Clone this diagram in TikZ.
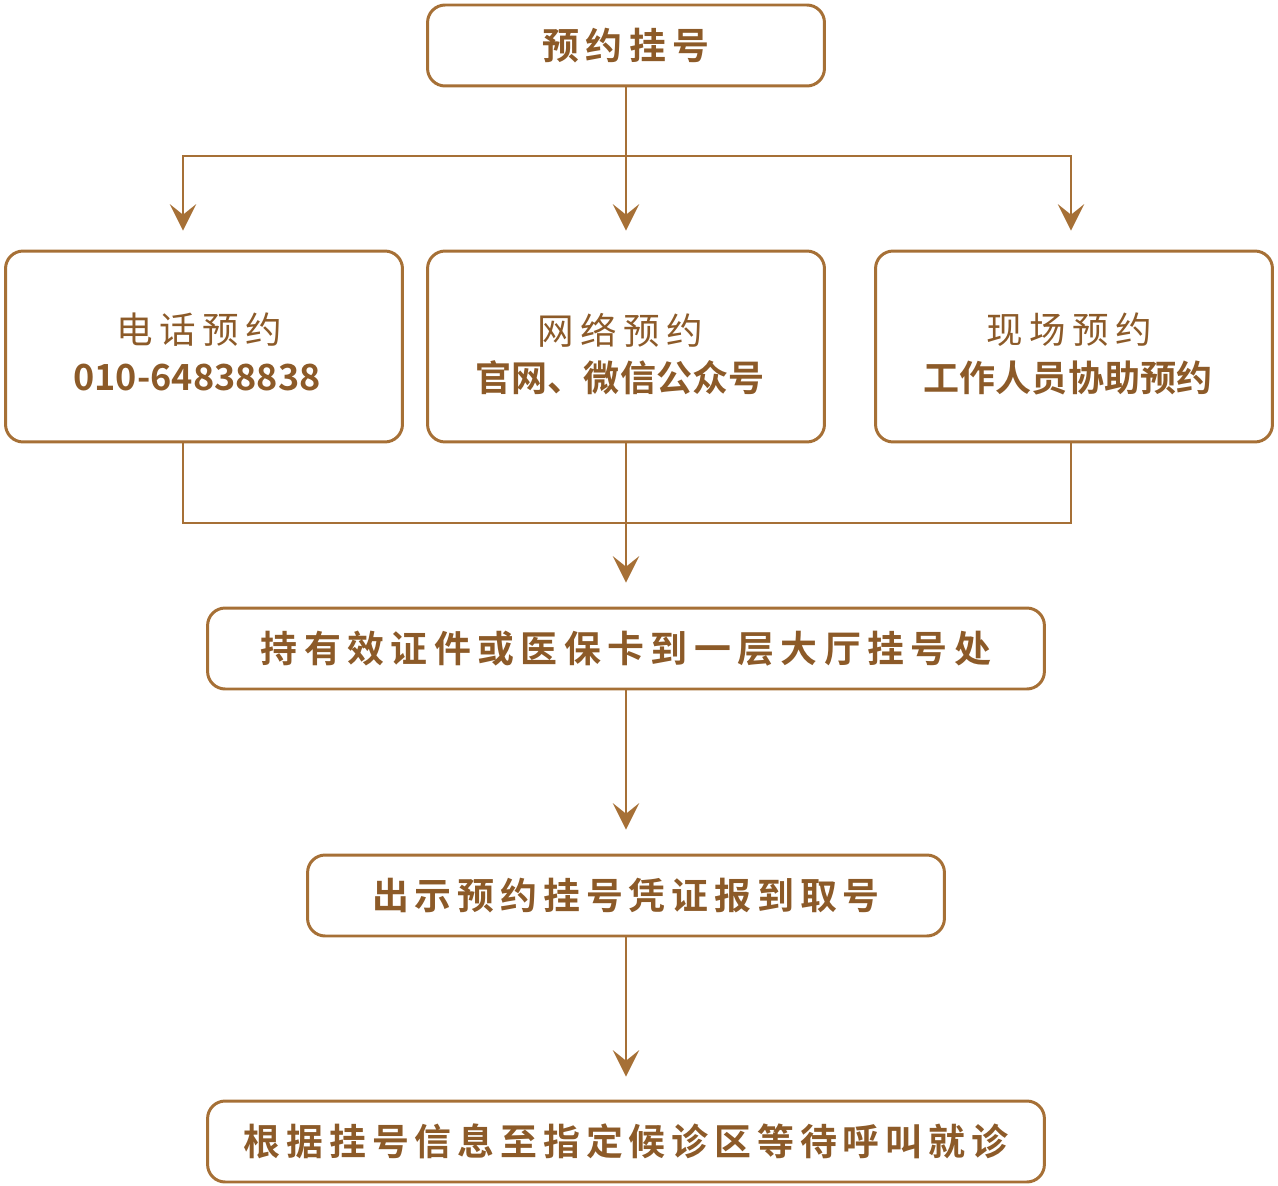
\documentclass[tikz,border=0pt]{standalone}
\usepackage{fontspec}
\usepackage{tikz}
\usetikzlibrary{arrows.meta,positioning,calc}

\newfontfamily\cjkb{Noto Sans CJK SC Bold}
\newfontfamily\cjkr{Noto Sans CJK SC}

\definecolor{boxline}{RGB}{166,112,54}
\definecolor{boxtext}{RGB}{140,90,40}

\begin{document}
\begin{tikzpicture}[
	%	style def
    x=0.02cm, y=-0.02cm,
    stepline/.style={draw=boxline, line width=1.7pt, rounded corners=10pt, fill=white},
    onebox/.style={stepline, minimum height=1.62cm, inner sep=0pt},
    rowbox/.style={stepline, minimum width=7.94cm, minimum height=3.82cm, inner sep=0pt},
    toptext/.style={font={\fontsize{20.8}{22}\cjkr\addfontfeature{LetterSpace=18}}},
    bottext/.style={font={\fontsize{20.5}{22}\cjkb}},
    link/.style={draw=boxline, line width=1.1pt},
    arr/.style={link, -{Stealth[length=15pt, width=15pt, inset=6pt]}},
    every node/.style={text=boxtext}
    ]
	\useasboundingbox (0,0) rectangle (1278,1186);

	% top box
	\node[onebox, minimum width=7.94cm, font={\fontsize{21}{24}\cjkb\addfontfeature{LetterSpace=17}}] (book) at (626,45.5) {预约挂号};

	% three ways to book
	\node[rowbox] (tel) at (204,346.5) {};
	\node[rowbox] (web) at (626,346.5) {};
	\node[rowbox] (site) at (1074,346.5) {};
	\node[toptext] (telA) at (199,330) {电话预约};
	\node[bottext] (telB) at (197,378) {010-64838838};
	\node[toptext] (webA) at (620,330) {网络预约};
	\node[bottext] (webB) at (620,378) {官网、微信公众号};
	\node[toptext] (siteA) at (1069,330) {现场预约};
	\node[bottext] (siteB) at (1068,378) {工作人员协助预约};

	% following steps
	\node[onebox, minimum width=16.74cm, font={\fontsize{21}{24}\cjkb\addfontfeature{LetterSpace=17.5}}] (card) at (626,648.5) {持有效证件或医保卡到一层大厅挂号处};
	\node[onebox, minimum width=12.74cm, font={\fontsize{21}{24}\cjkb\addfontfeature{LetterSpace=16}}] (show) at (626,895.5) {出示预约挂号凭证报到取号};
	\node[onebox, minimum width=16.74cm, font={\fontsize{21}{24}\cjkb\addfontfeature{LetterSpace=16}}] (wait) at (626,1141.5) {根据挂号信息至指定候诊区等待呼叫就诊};

	% split and merge
	\coordinate (split) at (626,156);
	\coordinate (merge) at (626,523);
	\coordinate (telN) at ($(tel.north)+(-21,0)$);
	\coordinate (telS) at ($(tel.south)+(-21,0)$);
	\coordinate (siteN) at ($(site.north)+(-3,0)$);
	\coordinate (siteS) at ($(site.south)+(-3,0)$);
	\draw[link] (book.south) -- (split);
	\draw[arr, shorten >=0.38cm] (split) -| (telN);
	\draw[arr, shorten >=0.38cm] (split) -- (web.north);
	\draw[arr, shorten >=0.38cm] (split) -| (siteN);
	\draw[link] (telS) |- (merge);
	\draw[link] (siteS) |- (merge);
	\draw[arr, shorten >=0.48cm] (web.south) -- (card.north);
	\draw[arr, shorten >=0.48cm] (card.south) -- (show.north);
	\draw[arr, shorten >=0.46cm] (show.south) -- (wait.north);
\end{tikzpicture}
\end{document}
